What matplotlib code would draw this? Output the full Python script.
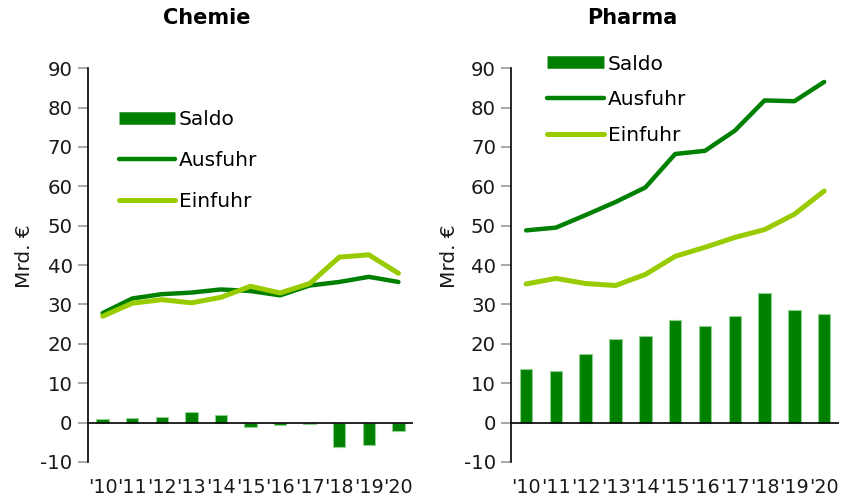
import matplotlib.pyplot as plt
from matplotlib.lines import Line2D

years = ["'10", "'11", "'12", "'13", "'14", "'15", "'16", "'17", "'18", "'19", "'20"]

chemie_saldo = [0.8, 1.2, 1.4, 2.6, 2.0, -1.1, -0.5, -0.3, -6.2, -5.6, -2.1]
chemie_ausfuhr = [27.8, 31.5, 32.6, 33.0, 33.8, 33.4, 32.3, 34.8, 35.7, 37.0, 35.7]
chemie_einfuhr = [27.0, 30.3, 31.2, 30.4, 31.8, 34.6, 32.9, 35.3, 42.0, 42.6, 37.9]

pharma_saldo = [13.6, 13.0, 17.4, 21.3, 22.1, 26.0, 24.6, 27.0, 32.8, 28.6, 27.6]
pharma_ausfuhr = [48.8, 49.5, 52.7, 56.0, 59.7, 68.2, 69.0, 74.1, 81.8, 81.6, 86.5]
pharma_einfuhr = [35.2, 36.6, 35.3, 34.8, 37.6, 42.2, 44.5, 47.0, 49.0, 52.9, 58.8]

DARK = "#008000"
LIGHT = "#99cc00"
EDGE = "#8fd18f"

plt.rcParams["font.family"] = ["DejaVu Sans"]
plt.rcParams["axes.unicode_minus"] = False

fig = plt.figure(figsize=(8.45, 5.01), dpi=100)


def panel(rect, title, title_x, saldo, ausfuhr, einfuhr, leg_anchor, spacing, ylab_x):
    ax = fig.add_axes(rect)
    x = list(range(len(years)))
    ax.bar(x, saldo, width=0.42, color=DARK, edgecolor=EDGE, linewidth=0.8, zorder=2)
    ax.plot(x, ausfuhr, color=DARK, lw=3.2, solid_capstyle="round", zorder=3)
    ax.plot(x, einfuhr, color=LIGHT, lw=3.6, solid_capstyle="round", zorder=3)
    ax.axhline(0, color="black", lw=1.2, zorder=4)

    ax.set_xlim(-0.5, len(years) - 0.5)
    ax.set_ylim(-10, 90)
    ax.set_yticks(range(-10, 91, 10))
    ax.set_xticks(x)
    ax.set_xticklabels(years)
    ax.tick_params(axis="x", length=0, pad=11.5, labelsize=13.8, labelcolor="#1a1a1a")
    ax.tick_params(axis="y", length=7, width=1.2, color="#999999", pad=4,
                   labelsize=14.2, labelcolor="#1a1a1a")
    for s in ("top", "right", "bottom"):
        ax.spines[s].set_visible(False)
    ax.spines["left"].set_color("black")
    ax.spines["left"].set_linewidth(1.2)
    ax.set_ylabel("Mrd. €", fontsize=14.5, color="#1a1a1a")
    ax.yaxis.set_label_coords(ylab_x, 0.523)

    fig.text(title_x, 0.965, title, ha="center", va="center",
             fontsize=15, fontweight="bold")

    handles = [
        Line2D([], [], color=DARK, lw=9, solid_capstyle="butt"),
        Line2D([], [], color=DARK, lw=3.2, solid_capstyle="round"),
        Line2D([], [], color=LIGHT, lw=3.6, solid_capstyle="round"),
    ]
    ax.legend(handles, ["Saldo", "Ausfuhr", "Einfuhr"], loc="upper left",
              bbox_to_anchor=leg_anchor, frameon=False, fontsize=14.5,
              handlelength=2.8, handletextpad=0.2, labelspacing=spacing,
              borderaxespad=0)
    return ax


panel([0.104, 0.078, 0.385, 0.786], "Chemie", 0.245,
      chemie_saldo, chemie_ausfuhr, chemie_einfuhr, (0.07, 0.915), 1.1, -0.166)
panel([0.605, 0.078, 0.388, 0.786], "Pharma", 0.748,
      pharma_saldo, pharma_ausfuhr, pharma_einfuhr, (0.085, 1.055), 0.82, -0.159)

fig.savefig("out.png", dpi=100)
